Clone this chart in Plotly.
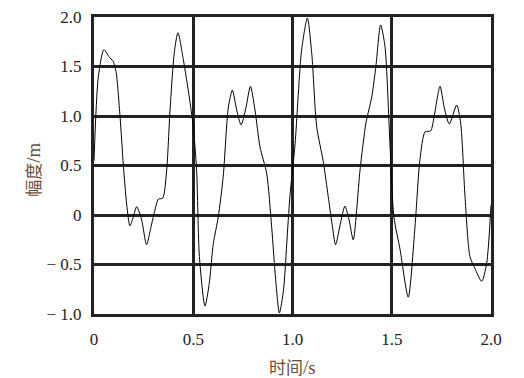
import plotly.graph_objects as go

# time (s) and amplitude (m)
t = [0.0, 0.022, 0.05, 0.075, 0.097, 0.111, 0.131, 0.148, 0.165, 0.181, 0.198, 0.215, 0.24, 0.265,
     0.287, 0.307, 0.324, 0.346, 0.366, 0.383, 0.405, 0.423, 0.45, 0.48, 0.50, 0.517, 0.531,
     0.559, 0.58, 0.601, 0.626, 0.651, 0.677, 0.697, 0.72, 0.741, 0.765, 0.788, 0.811, 0.836,
     0.87, 0.895, 0.915, 0.934, 0.955, 0.971, 0.987, 1.013, 1.046, 1.075, 1.097, 1.122, 1.155,
     1.18, 1.2, 1.217, 1.24, 1.264, 1.285, 1.306, 1.34, 1.37, 1.399, 1.42, 1.444, 1.466, 1.491,
     1.511, 1.542, 1.583, 1.617, 1.642, 1.668, 1.696, 1.713, 1.743, 1.765, 1.79, 1.827, 1.847,
     1.869, 1.894, 1.919, 1.953, 1.978, 2.0]
amp = [0.55, 1.40, 1.67, 1.60, 1.55, 1.45, 1.0, 0.5, 0.1, -0.11, -0.02, 0.084, -0.05, -0.30,
       -0.12, 0.05, 0.16, 0.17, 0.45, 1.06, 1.65, 1.84, 1.57, 1.19, 0.89, 0.45, -0.42,
       -0.92, -0.70, -0.29, -0.02, 0.39, 1.09, 1.26, 1.05, 0.91, 1.08, 1.30, 1.06, 0.69,
       0.42, -0.12, -0.65, -0.99, -0.75, -0.29, 0.19, 0.72, 1.67, 1.99, 1.63, 0.89, 0.54,
       0.185, -0.10, -0.30, -0.10, 0.09, -0.05, -0.25, 0.45, 0.93, 1.19, 1.50, 1.92, 1.70, 0.72,
       -0.02, -0.35, -0.83, -0.12, 0.56, 0.84, 0.85, 0.99, 1.30, 1.08, 0.92, 1.11, 0.93,
       0.19, -0.42, -0.54, -0.67, -0.49, 0.10]

x_ticks = [0, 0.5, 1.0, 1.5, 2.0]
x_labels = ["0", "0.5", "1.0", "1.5", "2.0"]
y_ticks = [-1.0, -0.5, 0, 0.5, 1.0, 1.5, 2.0]
y_labels = ["\u2212 1.0", "\u2212 0.5", "0", "0.5", "1.0", "1.5", "2.0"]
x_title = "时间<span style='font-family:Liberation Serif;font-size:19px'>/s</span>"
y_title = "幅度<span style='font-family:Liberation Serif;font-size:19px'>/m</span>"

fig = go.Figure()
fig.add_trace(go.Scatter(x=t, y=amp, mode="lines",
                         line=dict(color="black", width=1, shape="spline", smoothing=0.7),
                         showlegend=False, hoverinfo="skip"))

tickfont = dict(family="Liberation Serif", size=17, color="#222")
titlefont = dict(family="Noto Sans CJK SC", size=17, color="#6a4e3c")

fig.update_layout(
    width=524, height=378,
    font=dict(family="Liberation Serif"),
    margin=dict(l=94, r=33, t=17, b=64, autoexpand=False),
    paper_bgcolor="white", plot_bgcolor="white",
    xaxis=dict(range=[0, 2], tickvals=x_ticks, ticktext=x_labels, showgrid=True, automargin=False,
               gridcolor="#222", gridwidth=2.5, zeroline=False, showline=True, linecolor="#222",
               linewidth=3, mirror=True, ticks="", tickfont=tickfont, ticklabelstandoff=8),
    yaxis=dict(range=[-1, 2], tickvals=y_ticks, ticktext=y_labels, showgrid=True, automargin=False,
               gridcolor="#222", gridwidth=2.5, zeroline=True, zerolinecolor="#222", zerolinewidth=2.5,
               showline=True, linecolor="#222", linewidth=3, mirror=True, ticks="",
               tickfont=tickfont, ticklabelstandoff=6),
)
fig.add_annotation(text=x_title, xref="paper", yref="paper", x=0.5, y=-0.178, showarrow=False,
                   font=titlefont, xanchor="center", yanchor="middle")
fig.add_annotation(text=y_title, xref="paper", yref="paper", x=-0.154, y=0.485, showarrow=False,
                   font=titlefont, xanchor="center", yanchor="middle", textangle=-90)

fig.write_html("out.html", post_script="document.body.style.margin='0';",
               config={"displayModeBar": False})
